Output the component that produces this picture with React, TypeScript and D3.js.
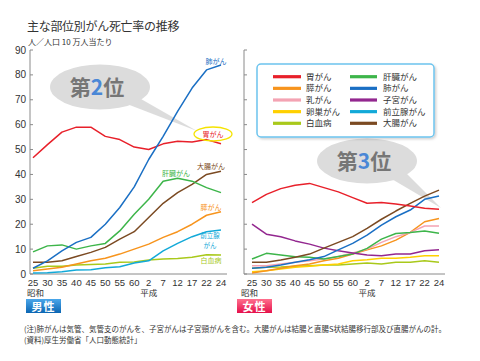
import * as d3 from 'd3';

// x categories (昭和25..60, 平成2..24)
const years = ['25', '30', '35', '40', '45', '50', '55', '60', '2', '7', '12', '17', '22', '24'];
const yTicks = [0, 10, 20, 30, 40, 50, 60, 70, 80, 90];

// 男性
const mStomach = [46.7, 52, 57, 59, 59, 55.3, 54, 51, 50, 52.3, 53.3, 53, 54, 52.3];
const mLung = [2.3, 5.3, 9.3, 12.7, 14.7, 20, 26.7, 35, 46, 55.3, 65.3, 74.7, 82, 84];
const mLiver = [8.9, 11.3, 11.7, 10, 11.3, 12.3, 17.3, 24, 30, 37.3, 38.5, 37.3, 34.7, 32.7];
const mColon = [4.7, 4.7, 5.3, 7, 8.7, 10.7, 14, 17, 22.7, 28.4, 32.7, 36, 40, 41.3];
const mPancreas = [1.3, 2, 2.7, 4, 5.3, 6.3, 8, 10, 12, 14.7, 17, 20, 23.6, 25];
const mProstate = [0.4, 0.5, 0.9, 1.6, 1.7, 2.5, 2.9, 4.4, 5.3, 9.3, 12.3, 15, 17, 17.7];
const mLeukemia = [2.3, 3.1, 3.1, 3.6, 3.8, 4, 4.7, 4.8, 5.6, 6, 6.2, 6.7, 7.7, 7.6];

// 女性
const fStomach = [28.7, 32, 34.3, 35.7, 36.4, 34.7, 33, 30.7, 28.4, 28.7, 28.1, 27.3, 26.4, 26];
const fUterus = [20, 16, 15, 13.3, 12, 10.4, 9.3, 8.4, 7.6, 7.3, 8, 8, 9.3, 9.7];
const fColon = [4.7, 4.7, 5.6, 6.7, 8, 10.4, 12.7, 15, 18.3, 22, 25.3, 28.4, 31.3, 33.7];
const fLung = [2.3, 2.7, 3.6, 4.7, 5.7, 7, 9.7, 12.3, 15.6, 19.6, 23, 25.7, 30, 31.3];
const fLiver = [6, 8.3, 7.6, 6.9, 6.7, 6, 7, 8, 10.3, 14, 16.3, 16.7, 17.3, 16.4];
const fBreast = [3.3, 3.3, 4, 4.7, 5.3, 6, 7, 8.4, 10, 12.7, 15, 16.7, 19.3, 19.3];
const fPancreas = [0.4, 1.3, 2.3, 3.3, 4, 5.3, 6.3, 8, 9.7, 11.3, 13.6, 16.7, 21, 22.3];
const fOvary = [0.9, 1.3, 2, 2.7, 3.1, 3.6, 4, 5.3, 5.7, 6.3, 6.3, 6.7, 7.3, 7.3];
const fLeukemia = [2.3, 2.7, 2.8, 3.1, 3.3, 3.6, 3.6, 4, 4.4, 4, 4.7, 4.7, 5.3, 4.7];

const C = {
  stomach: '#e8202a',
  pancreas: '#f7941d',
  breast: '#f4a3b3',
  ovary: '#ffd000',
  leukemia: '#a9c91b',
  liver: '#3db54a',
  lung: '#1a6fc4',
  uterus: '#93278f',
  prostate: '#12a9d8',
  colon: '#7b4a22',
};

const legendCol1 = [
  { name: '胃がん', color: C.stomach },
  { name: '膵がん', color: C.pancreas },
  { name: '乳がん', color: C.breast },
  { name: '卵巣がん', color: C.ovary },
  { name: '白血病', color: C.leukemia },
];
const legendCol2 = [
  { name: '肝臓がん', color: C.liver },
  { name: '肺がん', color: C.lung },
  { name: '子宮がん', color: C.uterus },
  { name: '前立腺がん', color: C.prostate },
  { name: '大腸がん', color: C.colon },
];

const maleSeries = [
  { v: mLeukemia, c: C.leukemia },
  { v: mProstate, c: C.prostate },
  { v: mPancreas, c: C.pancreas },
  { v: mColon, c: C.colon },
  { v: mLiver, c: C.liver },
  { v: mStomach, c: C.stomach },
  { v: mLung, c: C.lung },
];
const femaleSeries = [
  { v: fLeukemia, c: C.leukemia },
  { v: fOvary, c: C.ovary },
  { v: fPancreas, c: C.pancreas },
  { v: fBreast, c: C.breast },
  { v: fLiver, c: C.liver },
  { v: fUterus, c: C.uterus },
  { v: fLung, c: C.lung },
  { v: fColon, c: C.colon },
  { v: fStomach, c: C.stomach },
];

const JP = '"Noto Sans CJK JP", "Noto Sans", sans-serif';
const NUM = '"Liberation Sans", Arial, sans-serif';

const y = d3.scaleLinear().domain([0, 90]).range([274, 50]);

function Panel({ x0, xs, series, showLabels }: { x0: number; xs: d3.ScalePoint<string>; series: { v: number[]; c: string }[]; showLabels: boolean }) {
  const line = d3.line<number>().x((_, i) => xs(years[i])!).y((d) => y(d));
  const xEnd = (xs(years[years.length - 1]) ?? 0) + 6;
  return (
    <g>
      <line x1={x0} x2={x0} y1={y(90)} y2={y(0)} stroke="#8a8a8a" strokeWidth={1} />
      <line x1={x0} x2={xEnd} y1={y(0)} y2={y(0)} stroke="#8a8a8a" strokeWidth={1} />
      {yTicks.map((t) => (
        <g key={t}>
          <line x1={x0} x2={x0 + 3} y1={y(t)} y2={y(t)} stroke="#8a8a8a" />
          {showLabels && (
            <text x={x0 - 4} y={y(t)} dy="0.35em" textAnchor="end" fontSize={10} fontFamily={NUM} fill="#333">{t}</text>
          )}
        </g>
      ))}
      {years.map((yr) => (
        <text key={yr} x={xs(yr)} y={285.5} textAnchor="middle" fontSize={9.5} fontFamily={NUM} fill="#333">{yr}</text>
      ))}
      <text x={x0 - 3} y={296} fontSize={8.5} fontFamily={JP} fill="#333">昭和</text>
      <text x={xs('2')} y={296} textAnchor="middle" fontSize={8.5} fontFamily={JP} fill="#333">平成</text>
      {series.map((s, i) => (
        <path key={i} d={line(s.v) ?? ''} fill="none" stroke={s.c} strokeWidth={1.5} strokeLinejoin="round" />
      ))}
    </g>
  );
}

function Bubble({ cx, cy, tail, num }: { cx: number; cy: number; tail: string; num: string }) {
  return (
    <g>
      <path d={tail} fill="#d6d6d6" opacity={0.85} />
      <ellipse cx={cx} cy={cy} rx={50} ry={22.5} fill="#dcdcdc" />
      <text x={cx - 3} y={cy + 8} textAnchor="middle" fontSize={21} fontWeight="bold" fontFamily={JP} fill="#767676">
        第<tspan fill="#4a87d6">{num}</tspan>位
      </text>
    </g>
  );
}

export default function App() {
  const xL = d3.scalePoint<string>().domain(years).range([33, 221]);
  const xR = d3.scalePoint<string>().domain(years).range([252, 439]);
  const rowY = (i: number) => 76.7 + i * 11.65;

  return (
    <svg width={480} height={361} style={{ position: 'absolute', left: 0, top: 0, background: '#fff' }}>
      <defs>
        <linearGradient id="gMale" x1="0" y1="0" x2="0" y2="1">
          <stop offset="0%" stopColor="#4aa6ea" />
          <stop offset="100%" stopColor="#0b66b3" />
        </linearGradient>
        <linearGradient id="gFemale" x1="0" y1="0" x2="0" y2="1">
          <stop offset="0%" stopColor="#ff6f8d" />
          <stop offset="100%" stopColor="#e5104b" />
        </linearGradient>
        <filter id="sh" x="-5%" y="-5%" width="115%" height="120%">
          <feDropShadow dx="1.5" dy="1.5" stdDeviation="1" floodColor="#000" floodOpacity="0.18" />
        </filter>
      </defs>

      <text x={27} y={31} fontSize={12} letterSpacing={-0.3} fontFamily={JP} fill="#333">主な部位別がん死亡率の推移</text>
      <text x={28} y={45} fontSize={8} fontFamily={JP} fill="#333">人／人口 10 万人当たり</text>

      <Bubble cx={100} cy={87} num="2" tail="M127,104 L141,99 L197,131 Z" />
      <Bubble cx={367} cy={161} num="3" tail="M390,178 L405,172 L441,208 Z" />

      <Panel x0={30} xs={xL} series={maleSeries} showLabels={true} />
      <Panel x0={244} xs={xR} series={femaleSeries} showLabels={false} />

      {/* left panel line labels */}
      <ellipse cx={213} cy={134} rx={19} ry={7} fill="none" stroke="#f5e300" strokeWidth={1.3} />
      <g fontSize={7} fontFamily={JP} textAnchor="middle">
        <text x={216} y={63.5} fill={C.lung}>肺がん</text>
        <text x={213} y={136.5} fill={C.stomach}>胃がん</text>
        <text x={211} y={168.5} fill={C.colon}>大腸がん</text>
        <text x={176} y={175.5} fill={C.liver}>肝臓がん</text>
        <text x={211} y={209.5} fill={C.pancreas}>膵がん</text>
        <text x={210} y={238} fill={C.prostate} fontSize={6.5}>前立腺</text>
        <text x={210} y={247.5} fill={C.prostate} fontSize={6.5}>がん</text>
        <text x={211} y={262.5} fill={C.leukemia}>白血病</text>
      </g>

      {/* legend */}
      <rect x={257} y={64} width={177} height={73} rx={4} fill="#fff" stroke="#6cc4ee" strokeWidth={1.5} filter="url(#sh)" />
      {legendCol1.map((d, i) => (
        <g key={d.name}>
          <line x1={273} x2={301} y1={rowY(i)} y2={rowY(i)} stroke={d.color} strokeWidth={3.2} />
          <text x={306} y={rowY(i)} dy="0.35em" fontSize={8.5} fontFamily={JP} fill="#333">{d.name}</text>
        </g>
      ))}
      {legendCol2.map((d, i) => (
        <g key={d.name}>
          <line x1={350} x2={377} y1={rowY(i)} y2={rowY(i)} stroke={d.color} strokeWidth={3.2} />
          <text x={383} y={rowY(i)} dy="0.35em" fontSize={8.5} fontFamily={JP} fill="#333">{d.name}</text>
        </g>
      ))}

      {/* badges */}
      <rect x={26} y={299} width={35} height={14} fill="url(#gMale)" />
      <text x={43.5} y={310.5} textAnchor="middle" fontSize={11} fontWeight="bold" fontFamily={JP} fill="#fff" letterSpacing={1}>男性</text>
      <rect x={237} y={299} width={35} height={14} fill="url(#gFemale)" />
      <text x={254.5} y={310.5} textAnchor="middle" fontSize={11} fontWeight="bold" fontFamily={JP} fill="#fff" letterSpacing={1}>女性</text>

      {/* footer */}
      <text x={24} y={332} fontSize={7.5} fontFamily={JP} fill="#333">(注)肺がんは気管、気管支のがんを、子宮がんは子宮頸がんを含む。大腸がんは結腸と直腸S状結腸移行部及び直腸がんの計。</text>
      <text x={24} y={343} fontSize={7.5} fontFamily={JP} fill="#333">(資料)厚生労働省「人口動態統計」</text>
    </svg>
  );
}
